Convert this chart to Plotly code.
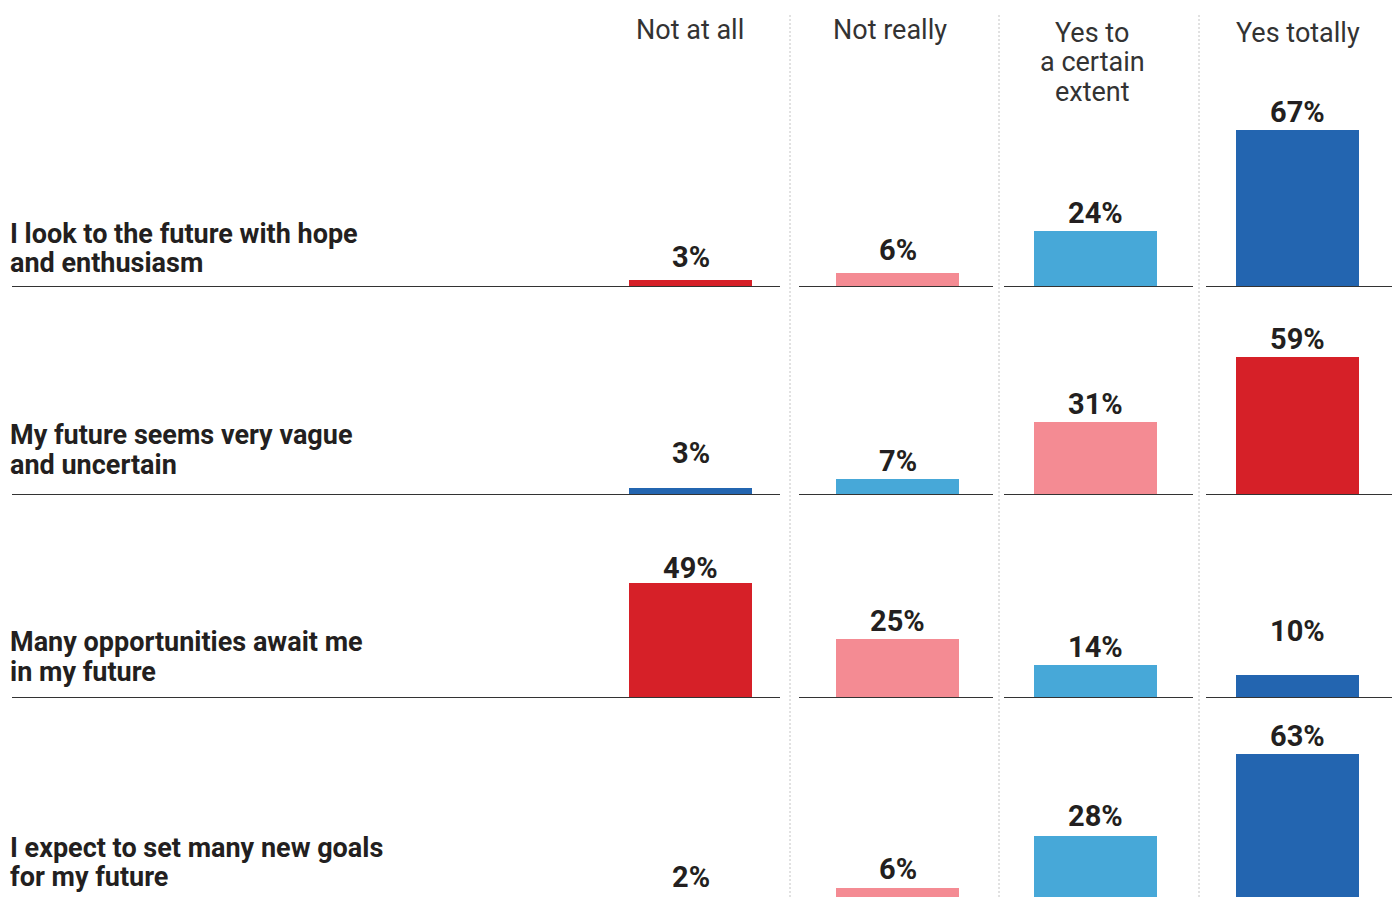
import plotly.graph_objects as go

# --- data -----------------------------------------------------------------
statements = [
    ["I look to the future with hope", "and enthusiasm"],
    ["My future seems very vague", "and uncertain"],
    ["Many opportunities await me", "in my future"],
    ["I expect to set many new goals", "for my future"],
]
answers = [["Not at all"], ["Not really"], ["Yes to", "a certain", "extent"], ["Yes totally"]]

hope_enthusiasm = [3, 6, 24, 67]
vague_uncertain = [3, 7, 31, 59]
opportunities = [49, 25, 14, 10]
new_goals = [2, 6, 28, 63]
shares = [hope_enthusiasm, vague_uncertain, opportunities, new_goals]

# positive statements run red -> blue, the negative one is reversed
positive_statement = [True, False, True, True]

# --- styling / layout -----------------------------------------------------
W, H = 1400, 897
PX_PER_PCT = 2.343
ROW_BASE_PX = [287, 495, 698, 902]
PANEL_H = 190
COL_CENTER = [690.5, 897.5, 1095.5, 1297.5]
HEADER_X = [690, 890, 1092, 1298]
HEADER_Y = [[30], [30], [33, 62, 92], [33]]
BAR_W = 123
RULE_SEGMENTS = [(12, 780), (799, 993), (1004, 1193), (1206, 1392)]
DIVIDERS = [790, 999, 1199]
PALETTE = ["#d62028", "#f48b93", "#47a8d8", "#2365b0"]
INK = "#231f20"
FONT = "Roboto"
LABEL_GAP = 18
LABEL_NUDGE = [[5, 5, 0, 0], [17, 0, 0, 0], [-3, 0, 0, 26], [2, 1, 2, 0]]
ROW_LINE_OFFSET = [(-53, -24), (-60, -30), (-56, -26), (-54, -25)]


def py(p):
    return 1 - p / H


fig = go.Figure()
annotations = []
shapes = []
layout_axes = {}

for r, vals in enumerate(shares):
    ya = "y" if r == 0 else f"y{r + 1}"
    yname = "yaxis" if r == 0 else f"yaxis{r + 1}"
    base = ROW_BASE_PX[r]
    bottom_px = min(base, H)
    top_px = base - PANEL_H
    lo = (base - bottom_px) / PX_PER_PCT
    hi = (base - top_px) / PX_PER_PCT
    layout_axes[yname] = dict(domain=[py(bottom_px), py(top_px)], range=[lo, hi],
                              visible=False, fixedrange=True, anchor="x")

    colors = PALETTE if positive_statement[r] else PALETTE[::-1]
    fig.add_trace(go.Bar(x=COL_CENTER, y=vals, width=BAR_W, xaxis="x", yaxis=ya,
                         marker=dict(color=colors, line=dict(width=0)),
                         showlegend=False, hovertemplate="%{y}%<extra></extra>"))

    # value labels: the text sits at the (invisible) arrow tail, placed at the
    # bar's value on the row axis, so labels of bars below the visible panel
    # edge still render
    for c, v in enumerate(vals):
        annotations.append(dict(
            x=COL_CENTER[c], y=(lo + hi) / 2, xref="x", yref=ya,
            showarrow=True, axref="x", ax=COL_CENTER[c], ayref=ya, ay=v,
            arrowcolor="rgba(0,0,0,0)", arrowwidth=0.1, arrowhead=0,
            text=f"{v}%", xanchor="center", yanchor="middle",
            yshift=LABEL_GAP + LABEL_NUDGE[r][c],
            font=dict(family=FONT, size=29, color=INK, weight="bold")))

    for line, off in zip(statements[r], ROW_LINE_OFFSET[r]):
        annotations.append(dict(
            x=8, y=py(base + off), xref="x", yref="paper", text=line, showarrow=False,
            xanchor="left", yanchor="middle",
            font=dict(family=FONT, size=27, color=INK, weight="bold")))

    for x0, x1 in RULE_SEGMENTS:
        shapes.append(dict(type="line", xref="x", yref=ya, x0=x0, x1=x1, y0=0, y1=0,
                           line=dict(color="#333333", width=2)))

for c, lines in enumerate(answers):
    for line, yp in zip(lines, HEADER_Y[c]):
        annotations.append(dict(
            x=HEADER_X[c], y=py(yp), xref="x", yref="paper", text=line, showarrow=False,
            xanchor="center", yanchor="middle",
            font=dict(family=FONT, size=27, color="#333333")))

for xd in DIVIDERS:
    shapes.append(dict(type="line", xref="x", yref="paper", x0=xd, x1=xd, y0=0, y1=py(14),
                       layer="below", line=dict(color="#c4c4c4", width=1, dash="2px,2px")))

fig.update_layout(
    width=W, height=H, margin=dict(l=0, r=0, t=0, b=0),
    paper_bgcolor="white", plot_bgcolor="white",
    xaxis=dict(range=[0, W], domain=[0, 1], visible=False, fixedrange=True),
    annotations=annotations, shapes=shapes, bargap=0,
    **layout_axes,
)

fig.write_html("out.html")
